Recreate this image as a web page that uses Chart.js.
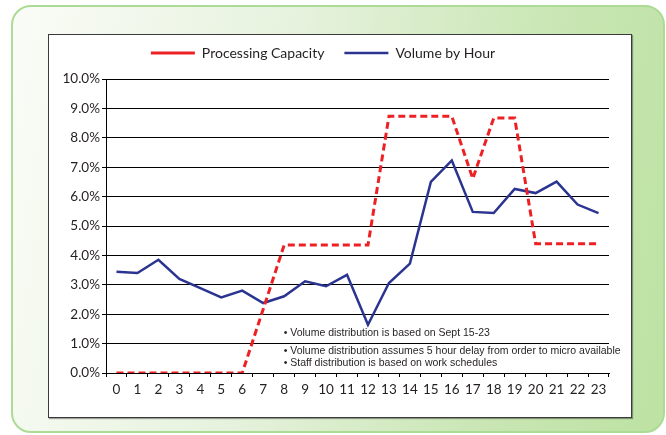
<!DOCTYPE html>
<html>
<head>
<meta charset="utf-8">
<script src="https://cdn.jsdelivr.net/npm/chart.js@4"></script>
<style>
  body { margin: 0; width: 666px; height: 435px; overflow: hidden; background: #fff; position: relative; }
  .frame {
    position: absolute; left: 11px; top: 5px; width: 650px; height: 424px;
    border: 2px solid #abdb95; border-radius: 20px;
    background: linear-gradient(100deg, #fafcf7 0%, #e6f2dd 40%, #c9e6b4 75%, #bde2a3 100%);
  }
  .panel {
    position: absolute; left: 48px; top: 34px; width: 582px; height: 382px;
    border: 1.5px solid #3a3a3a; background: #fff;
    box-shadow: 1px 1px 1px rgba(0,0,0,0.35);
  }
  #wrap { position: absolute; left: 0; top: 0; width: 666px; height: 435px; }
</style>
</head>
<body>
<div class="frame"></div>
<div class="panel"></div>
<div id="wrap"><canvas id="myChart" width="666" height="435"></canvas></div>
<script>
// hours of the day
const hours = ['0','1','2','3','4','5','6','7','8','9','10','11','12','13','14','15','16','17','18','19','20','21','22','23'];
// percent of daily total
const capacity = [0, 0, 0, 0, 0, 0, 0, 2.17, 4.35, 4.35, 4.35, 4.35, 4.35, 8.73, 8.73, 8.73, 8.73, 6.61, 8.67, 8.67, 4.40, 4.40, 4.40, 4.40];
const volume = [3.44, 3.40, 3.85, 3.20, 2.89, 2.57, 2.80, 2.38, 2.61, 3.12, 2.95, 3.34, 1.64, 3.06, 3.72, 6.50, 7.23, 5.48, 5.44, 6.26, 6.12, 6.51, 5.73, 5.44];
const notes = [
    '• Volume distribution is based on Sept 15-23',
    '• Volume distribution assumes 5 hour delay from order to micro available',
    '• Staff distribution is based on work schedules'
];
const noteLevels = [1.34, 0.73, 0.32];

const fontName = 'Lato, "Open Sans", sans-serif';

// extra room under the legend
const legendGap = {
    id: 'legendGap',
    beforeInit(chart){
        const fit = chart.legend.fit;
        chart.legend.fit = function(){
            fit.bind(chart.legend)();
            this.height += 9;
        };
    }
};

const notesPlugin = {
    id: 'notes',
    afterDraw(chart){
        const ctx = chart.ctx;
        const x = chart.scales.x.getPixelForValue(8) - 0.5;
        ctx.save();
        ctx.fillStyle = '#231f20';
        ctx.font = '10.5px "Liberation Sans", Arial, sans-serif';
        ctx.textBaseline = 'middle';
        notes.forEach((t, i) => {
            ctx.fillText(t, x, chart.scales.y.getPixelForValue(noteLevels[i]));
        });
        ctx.restore();
    }
};

new Chart('myChart', {
    type: 'line',
    data: {
        labels: hours,
        datasets: [{
            label: 'Processing Capacity',
            data: capacity,
            borderColor: '#ed2024',
            backgroundColor: '#ed2024',
            borderWidth: 3,
            borderDash: [7, 4],
            pointRadius: 0,
            tension: 0,
            fill: false
        }, {
            label: 'Volume by Hour',
            data: volume,
            borderColor: '#2b3591',
            backgroundColor: '#2b3591',
            borderWidth: 2.5,
            pointRadius: 0,
            tension: 0,
            fill: false
        }]
    },
    options: {
        responsive: false,
        animation: false,
        layout: { padding: { left: 37, right: 57, top: 26, bottom: 0 } },
        plugins: {
            legend: {
                display: true,
                labels: {
                    usePointStyle: true,
                    pointStyle: 'line',
                    pointStyleWidth: 44,
                    color: '#231f20',
                    font: { family: fontName, size: 14 },
                    padding: 20
                }
            },
            tooltip: { enabled: false }
        },
        scales: {
            x: {
                offset: true,
                afterFit: (s) => { s.height = 62; },
                grid: { drawOnChartArea: false, offset: true, tickLength: 4, color: '#000' },
                border: { color: '#000', width: 1 },
                ticks: { color: '#231f20', font: { family: fontName, size: 13.5 }, padding: 5, maxRotation: 0, autoSkip: false }
            },
            y: {
                min: 0,
                max: 10,
                afterFit: (s) => { s.width = 69; },
                grid: { color: '#000', lineWidth: 1, tickLength: 4 },
                border: { color: '#000', width: 1 },
                ticks: {
                    stepSize: 1,
                    color: '#231f20',
                    font: { family: fontName, size: 13.5 },
                    padding: 2,
                    callback: (v) => v.toFixed(1) + '%'
                }
            }
        }
    },
    plugins: [legendGap, notesPlugin]
});
</script>
</body>
</html>
